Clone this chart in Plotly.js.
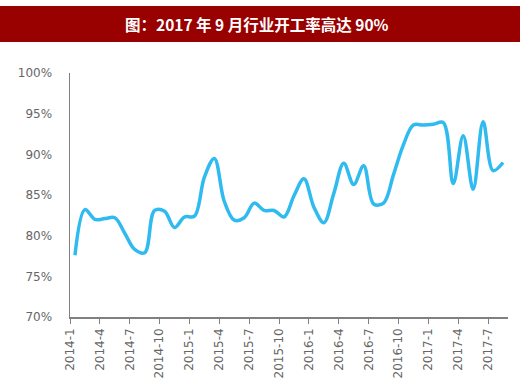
<!DOCTYPE html>
<html>
<head>
<meta charset="utf-8">
<script src="https://cdn.plot.ly/plotly-3.0.1.min.js"></script>
<style>
html,body{margin:0;padding:0;background:#fff;}
#chart{width:520px;height:385px;}
</style>
</head>
<body>
<div id="chart"></div>
<script>
var titleText = "图：2017 年 9 月行业开工率高达 90%";
var months = [
 "2014-1","2014-2","2014-3","2014-4","2014-5","2014-6","2014-7","2014-8","2014-9","2014-10","2014-11","2014-12",
 "2015-1","2015-2","2015-3","2015-4","2015-5","2015-6","2015-7","2015-8","2015-9","2015-10","2015-11","2015-12",
 "2016-1","2016-2","2016-3","2016-4","2016-5","2016-6","2016-7","2016-8","2016-9","2016-10","2016-11","2016-12",
 "2017-1","2017-2","2017-3","2017-4","2017-5","2017-6","2017-7","2017-8"
];
var utilization = [
 77.6, 83.2, 82.0, 82.1, 82.2, 80.3, 78.3, 77.9, 83.1, 83.0, 81.0, 82.3,
 82.4, 87.2, 89.5, 84.2, 81.9, 82.2, 84.0, 83.1, 83.1, 82.3, 84.9, 87.0,
 83.5, 81.6, 85.2, 88.9, 86.3, 88.6, 83.9, 84.0, 87.5, 91.2, 93.6, 93.6,
 93.7, 93.9, 86.4, 92.3, 85.7, 94.0, 88.0, 89.0
];
var tickLabels = ["2014-1","2014-4","2014-7","2014-10","2015-1","2015-4","2015-7","2015-10",
 "2016-1","2016-4","2016-7","2016-10","2017-1","2017-4","2017-7"];
var yTicks = [70, 75, 80, 85, 90, 95, 100];
var yTickLabels = ["70%", "75%", "80%", "85%", "90%", "95%", "100%"];

var xIdx = months.map(function(m, i){ return i; });
var tickPos = tickLabels.map(function(l){ return months.indexOf(l) - 0.5; });

var trace = {
  x: xIdx,
  y: utilization,
  type: 'scatter',
  mode: 'lines',
  line: {color: '#2fbaf0', width: 3.5, shape: 'spline', smoothing: 1},
  hoverinfo: 'skip'
};

var tf = {family: "'DejaVu Sans', Verdana, sans-serif", size: 12, color: '#666666'};

var layout = {
  width: 520, height: 385,
  margin: {l: 70, r: 12, t: 73, b: 68},
  paper_bgcolor: '#ffffff', plot_bgcolor: '#ffffff',
  showlegend: false,
  font: tf,
  xaxis: {
    range: [-0.5, months.length - 0.5],
    tickmode: 'array', tickvals: tickPos, ticktext: tickLabels,
    tickangle: -90, ticks: 'outside', ticklen: 5, tickcolor: '#808080', tickwidth: 1,
    showline: true, linecolor: '#808080', linewidth: 1.5,
    showgrid: false, zeroline: false,
    tickfont: tf,
    fixedrange: true
  },
  yaxis: {
    range: [70, 100],
    tickmode: 'array', tickvals: yTicks, ticktext: yTickLabels,
    ticks: '', showline: true, linecolor: '#808080', linewidth: 1.5,
    showgrid: false, zeroline: false, ticklabelstandoff: 14,
    tickfont: tf,
    fixedrange: true
  },
  shapes: [{
    type: 'rect', xref: 'paper', yref: 'paper',
    x0: -70/438, x1: 1 + 12/438,
    y0: 1 + (73-42)/244, y1: 1 + (73-6)/244,
    fillcolor: '#990000', line: {width: 0}, layer: 'above'
  }],
  annotations: [{
    text: titleText, xref: 'paper', yref: 'paper',
    x: (257-70)/438, y: 1 + (73-24)/244, xanchor: 'center', yanchor: 'middle',
    showarrow: false,
    font: {family: "'Noto Sans CJK SC', sans-serif", size: 15.5, color: '#ffffff', weight: 'bold'}
  }]
};

Plotly.newPlot('chart', [trace], layout, {displayModeBar: false, staticPlot: true});
</script>
</body>
</html>
